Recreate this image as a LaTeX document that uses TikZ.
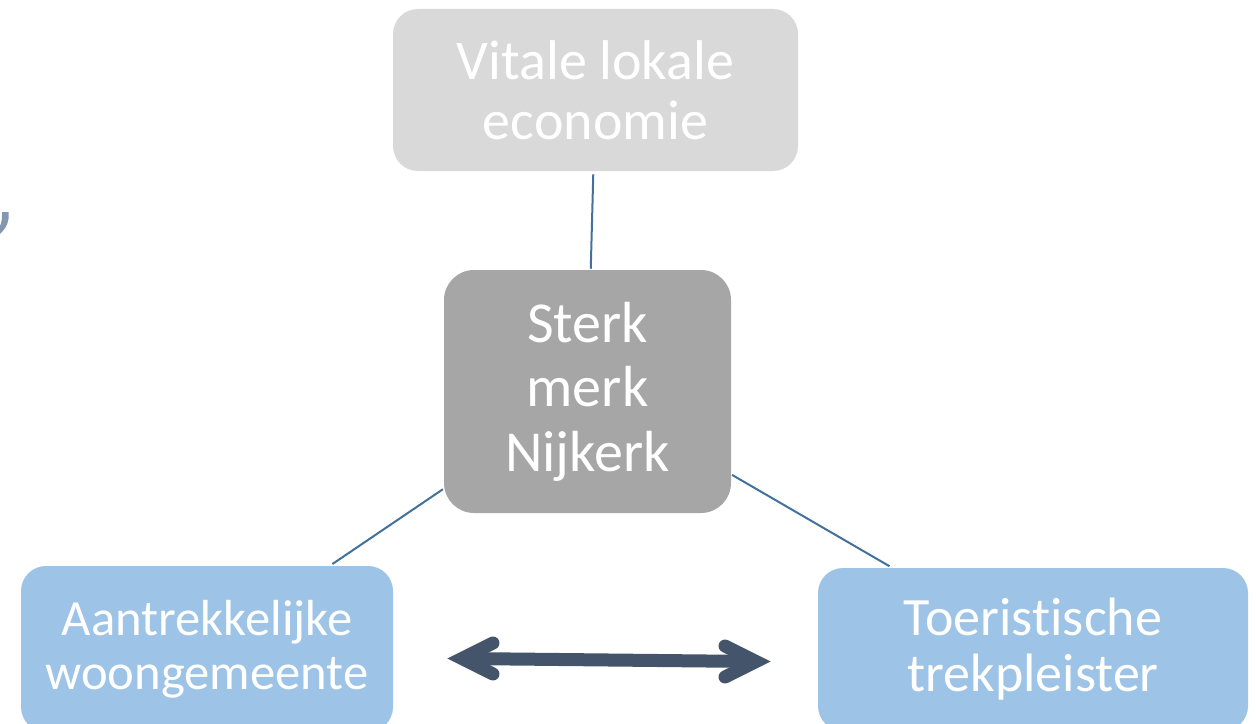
\documentclass[tikz,border=0pt]{standalone}
\usepackage{fontspec}
\setmainfont{Carlito}[Ligatures=NoCommon]
\usetikzlibrary{calc}
\definecolor{topfill}{HTML}{D9D9D9}
\definecolor{midfill}{HTML}{A6A6A6}
\definecolor{bluefill}{HTML}{9DC3E6}
\definecolor{connc}{HTML}{41719C}
\definecolor{arrowc}{HTML}{44546A}
\definecolor{commac}{HTML}{8497B0}
\tikzset{
  box/.style={rounded corners=#1, inner sep=0pt, text=white, align=center},
  conn/.style={draw=connc, line width=1.5pt, shorten <=0.75pt, shorten >=2.25pt},
  dblarrow/.style={draw=arrowc, line width=9.75pt},
  barb/.style={draw=arrowc, line width=9.75pt, line cap=round, line join=miter},
}
\begin{document}
\begin{tikzpicture}[x=0.75pt, y=-0.75pt]
\useasboundingbox (0,0) rectangle (1256,724);
\clip (0,0) rectangle (1256,724);
% partial glyph at left edge
\fill[commac] (2,212) -- (8.5,212) -- (8.5,219) .. controls (7.5,226) and (4,230) .. (0,234)
  -- (0,226) .. controls (1.5,223) and (2,219) .. (2,215) -- cycle;
% boxes
\node[box=18.75pt, fill=topfill, minimum width=303.75pt, minimum height=121.5pt,
      font=\fontsize{42pt}{45pt}\selectfont] (top) at (595.5,90) {Vitale lokale\\economie};
\node[box=22.5pt, fill=midfill, minimum width=215.25pt, minimum height=182.25pt,
      font=\fontsize{43.5pt}{48.4pt}\selectfont] (mid) at (587.5,391.5) {Sterk\\merk\\Nijkerk};
\node[box=18.75pt, fill=bluefill, minimum width=279pt, minimum height=124.5pt,
      font=\fontsize{38pt}{40.5pt}\selectfont] (left) at (207,649) {Aantrekkelijke\\woongemeente};
\node[box=18.75pt, fill=bluefill, minimum width=322.5pt, minimum height=122.25pt,
      font=\fontsize{40.5pt}{42pt}\selectfont] (right) at (1033,649.5) {Toeristische\\trekpleister};
% connectors
\draw[conn] (mid) -- (top);
\draw[conn] (mid) -- (left);
\draw[conn] (mid) -- (right);
% double arrow
\coordinate (aL) at (462,658.5);
\coordinate (aR) at (756,661.5);
\draw[dblarrow] (aL) -- (aR);
\draw[barb] ($(aL)+(31,-15.5)$) -- (aL) -- ($(aL)+(31,15.5)$);
\draw[barb] ($(aR)+(-31,-15.5)$) -- (aR) -- ($(aR)+(-31,15.5)$);
\end{tikzpicture}
\end{document}
